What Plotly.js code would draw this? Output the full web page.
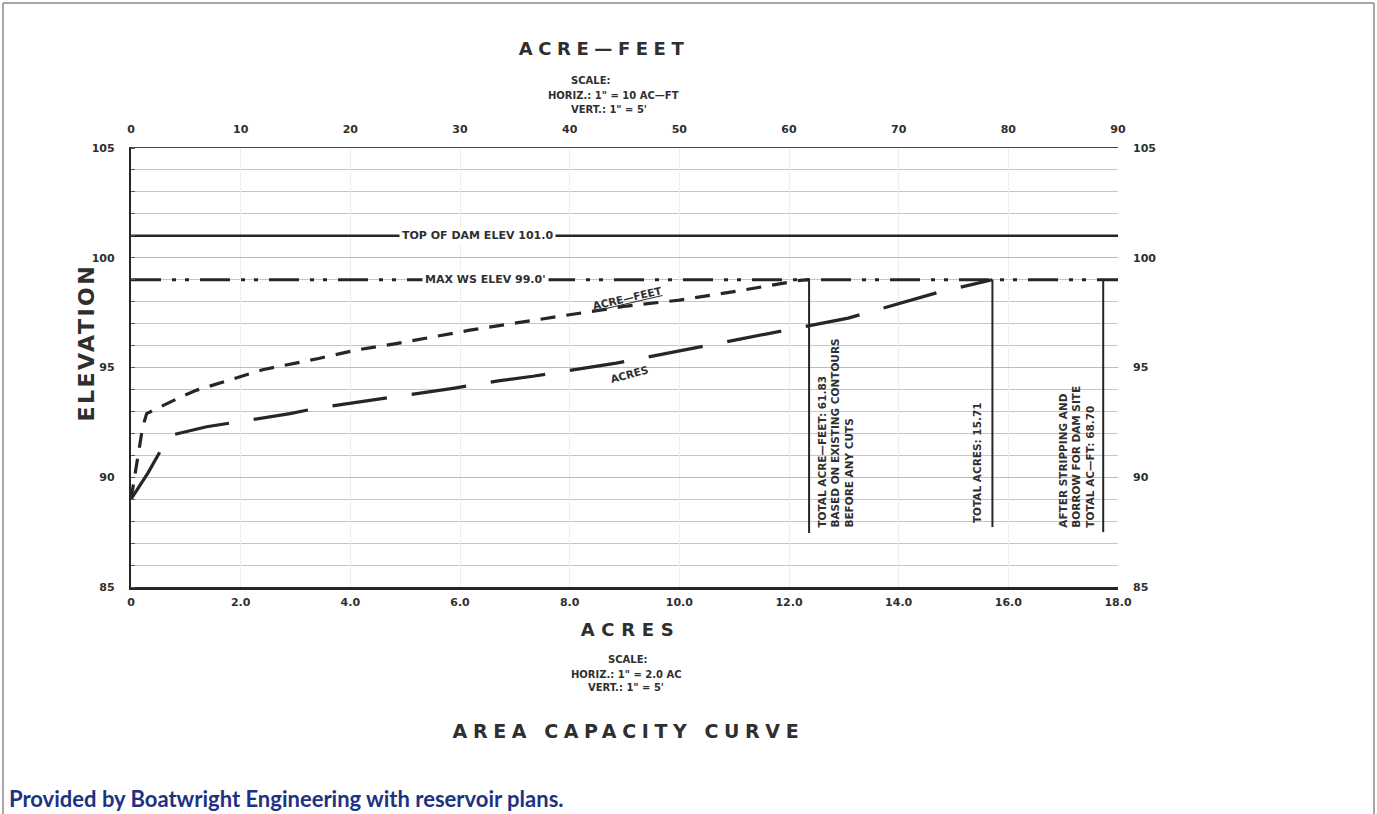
<!DOCTYPE html>
<html>
<head>
<meta charset="utf-8">
<script src="https://cdn.plot.ly/plotly-3.0.1.min.js"></script>
<style>
html,body{margin:0;padding:0;background:#fff;}
#chart{width:1377px;height:814px;}
</style>
</head>
<body>
<div id="chart"></div>
<script>
// ---------- data ----------
// Acres curve (bottom axis, acres) vs elevation (ft)
const acresX    = [0, 0.31, 0.56, 0.71, 1.38, 1.86, 2.9, 3.39, 4.36, 5.87, 6.73, 7.33, 8.85, 10.32, 11.78, 13.08, 13.71, 14.69, 15.71];
const acresElev = [89, 90.2, 91.3, 91.9, 92.3, 92.5, 92.9, 93.15, 93.5, 94.05, 94.4, 94.6, 95.2, 95.9, 96.6, 97.25, 97.7, 98.4, 99.0];
// Acre-feet curve (top axis, acre-feet) vs elevation (ft)
const acftX     = [0, 1.07, 1.43, 4.5, 6.0, 12.0, 17.0, 20.6, 24.3, 30.9, 36.7, 41.1, 45.2, 50.0, 55.5, 61.0, 61.83];
const acftElev  = [89, 92.3, 92.9, 93.65, 93.97, 94.9, 95.4, 95.8, 96.1, 96.7, 97.15, 97.5, 97.8, 98.07, 98.5, 98.97, 99.0];
// Reference elevations
const topOfDamElev = 101.0;
const maxWsElev    = 99.0;
// Totals (vertical marker lines)
const totalAcreFeet = 61.83;      // on acre-feet axis
const totalAcres    = 15.71;      // on acres axis
const afterStripAcresPos = 17.73; // position of third marker, acres axis
const markerBottoms = [87.46, 87.73, 87.5];
// Tick labels
const acresTickVals  = [0, 2, 4, 6, 8, 10, 12, 14, 16, 18];
const acresTickText  = ['0', '2.0', '4.0', '6.0', '8.0', '10.0', '12.0', '14.0', '16.0', '18.0'];
const acftTickVals   = [0, 10, 20, 30, 40, 50, 60, 70, 80, 90];
const acftTickText   = ['0', '10', '20', '30', '40', '50', '60', '70', '80', '90'];
const elevTickVals   = [85, 90, 95, 100, 105];
const elevTickText   = ['85', '90', '95', '100', '105'];
const acresRange = [0, 18];
const acftRange  = [0, 90];
const elevRange  = [85, 105];

// ---------- geometry helpers ----------
const L = 131, R = 1118, T = 148, B = 587;
const W = R - L, H = B - T;
const px = x => (x - L) / W;
const py = y => (B - y) / H;

const INK = '#262626';
const TXT = '#2f2f2f';
const CAD = 'DejaVu Sans';

const traces = [
  { // top of dam
    x: acresRange, y: [topOfDamElev, topOfDamElev], xaxis: 'x', yaxis: 'y2',
    mode: 'lines', line: {color: INK, width: 2.6}, hoverinfo: 'skip'
  },
  { // max WS
    x: acresRange, y: [maxWsElev, maxWsElev], xaxis: 'x', yaxis: 'y',
    mode: 'lines', line: {color: INK, width: 3, dash: '30px,11px,4px,9px,4px,11px'}, hoverinfo: 'skip'
  },
  { // acres curve
    x: acresX, y: acresElev, xaxis: 'x', yaxis: 'y',
    mode: 'lines', line: {color: INK, width: 3.2, dash: '55px,25px'}, hoverinfo: 'skip'
  },
  { // acre-feet curve
    x: acftX, y: acftElev, xaxis: 'x2', yaxis: 'y',
    mode: 'lines', line: {color: INK, width: 3.2, dash: '15px,11px'}, hoverinfo: 'skip'
  },
  { // total acre-feet marker
    x: [totalAcreFeet, totalAcreFeet], y: [maxWsElev, markerBottoms[0]], xaxis: 'x2', yaxis: 'y',
    mode: 'lines', line: {color: INK, width: 2}, hoverinfo: 'skip'
  },
  { // total acres marker
    x: [totalAcres, totalAcres], y: [maxWsElev, markerBottoms[1]], xaxis: 'x', yaxis: 'y',
    mode: 'lines', line: {color: INK, width: 2}, hoverinfo: 'skip'
  },
  { // after stripping marker
    x: [afterStripAcresPos, afterStripAcresPos], y: [maxWsElev, markerBottoms[2]], xaxis: 'x', yaxis: 'y',
    mode: 'lines', line: {color: INK, width: 2}, hoverinfo: 'skip'
  }
];

const tickFont = {family: CAD, size: 11, color: TXT, weight: 'bold'};
const smallFont = {family: CAD, size: 10, color: TXT, weight: 'bold'};

const annotations = [
  // 0: top title
  {xref: 'paper', yref: 'paper', x: px(601), y: py(48), text: 'ACRE—FEET', showarrow: false,
   font: {family: CAD, size: 18, color: TXT, weight: 'bold'}, xanchor: 'center', yanchor: 'middle'},
  {xref: 'paper', yref: 'paper', x: px(590), y: py(73), text: 'SCALE:', showarrow: false, font: smallFont},
  {xref: 'paper', yref: 'paper', x: px(613), y: py(88), text: 'HORIZ.: 1" = 10 AC—FT', showarrow: false, font: smallFont},
  {xref: 'paper', yref: 'paper', x: px(609), y: py(102), text: 'VERT.: 1" = 5\'', showarrow: false, font: smallFont},
  // 4: bottom title
  {xref: 'paper', yref: 'paper', x: px(627), y: py(642), text: 'ACRES', showarrow: false,
   font: {family: CAD, size: 18, color: TXT, weight: 'bold'}},
  {xref: 'paper', yref: 'paper', x: px(627), y: py(667), text: 'SCALE:', showarrow: false, font: smallFont},
  {xref: 'paper', yref: 'paper', x: px(626), y: py(682), text: 'HORIZ.: 1" = 2.0 AC', showarrow: false, font: smallFont},
  {xref: 'paper', yref: 'paper', x: px(626), y: py(695), text: 'VERT.: 1" = 5\'', showarrow: false, font: smallFont},
  // 8: chart name
  {xref: 'paper', yref: 'paper', x: px(625), y: py(744), text: 'AREA CAPACITY CURVE', showarrow: false,
   font: {family: CAD, size: 19, color: TXT, weight: 'bold'}},
  // 9: y title
  {xref: 'paper', yref: 'paper', x: px(71), y: py(344), text: 'ELEVATION', showarrow: false, textangle: -90,
   font: {family: CAD, size: 22, color: TXT, weight: 'bold'}},
  // footer
  {xref: 'paper', yref: 'paper', x: px(7), y: py(814), xanchor: 'left', yanchor: 'bottom',
   text: 'Provided by Boatwright Engineering with reservoir plans.', showarrow: false,
   font: {family: 'Lato', size: 22, color: '#1d3283', weight: 'bold'}},
  // line labels
  {xref: 'x', yref: 'y2', x: 6.31, y: topOfDamElev, text: 'TOP OF DAM ELEV 101.0', showarrow: false,
   bgcolor: '#ffffff', borderpad: 2, font: {family: CAD, size: 11, color: TXT, weight: 'bold'}},
  {xref: 'x', yref: 'y', x: 6.46, y: maxWsElev, text: 'MAX WS ELEV 99.0\'', showarrow: false,
   bgcolor: '#ffffff', borderpad: 2, font: {family: CAD, size: 11, color: TXT, weight: 'bold'}},
  // curve labels
  {xref: 'x', yref: 'y', x: 9.05, y: 98.15, text: '<span style="text-decoration:underline">ACRE—FEET</span>',
   showarrow: false, textangle: -13, font: {family: CAD, size: 10.5, color: TXT, weight: 'bold'}},
  {xref: 'x', yref: 'y', x: 9.1, y: 94.7, text: 'ACRES', showarrow: false, textangle: -15,
   font: {family: CAD, size: 10.5, color: TXT, weight: 'bold'}},
  // vertical notes
  {xref: 'x', yref: 'y', x: 12.45, y: 87.6, xanchor: 'left', yanchor: 'bottom', align: 'left', textangle: -90,
   text: 'TOTAL ACRE—FEET: 61.83<br>BASED ON EXISTING CONTOURS<br>BEFORE ANY CUTS', showarrow: false,
   font: {family: CAD, size: 10.5, color: TXT, weight: 'bold'}},
  {xref: 'x', yref: 'y', x: 15.575, y: 87.8, xanchor: 'right', yanchor: 'bottom', align: 'left', textangle: -90,
   text: 'TOTAL ACRES: 15.71', showarrow: false,
   font: {family: CAD, size: 10.5, color: TXT, weight: 'bold'}},
  {xref: 'x', yref: 'y', x: 17.64, y: 87.6, xanchor: 'right', yanchor: 'bottom', align: 'left', textangle: -90,
   text: 'AFTER STRIPPING AND<br>BORROW FOR DAM SITE<br>TOTAL AC—FT: 68.70', showarrow: false,
   font: {family: CAD, size: 10.5, color: TXT, weight: 'bold'}}
];

const shapes = [
  // outer drawing frame (left, top, right)
  {type: 'line', xref: 'paper', yref: 'paper', x0: px(3), x1: px(3), y0: py(3), y1: py(814), line: {color: '#8a8a8a', width: 1.5}},
  {type: 'line', xref: 'paper', yref: 'paper', x0: px(3), x1: px(1374), y0: py(3), y1: py(3), line: {color: '#8a8a8a', width: 1.5}},
  {type: 'line', xref: 'paper', yref: 'paper', x0: px(1374), x1: px(1374), y0: py(3), y1: py(814), line: {color: '#8a8a8a', width: 1.5}}
];

const layout = {
  width: 1377, height: 814,
  margin: {l: L, r: 1377 - R, t: T, b: 814 - B, pad: 0},
  paper_bgcolor: '#ffffff', plot_bgcolor: '#ffffff',
  showlegend: false, hovermode: false,
  xaxis: {
    range: acresRange, tickvals: acresTickVals, ticktext: acresTickText,
    showgrid: true, gridcolor: '#ededed', gridwidth: 1, zeroline: false,
    showline: true, linecolor: INK, linewidth: 2.5, ticks: '', tickfont: tickFont,
    ticklabelstandoff: 3
  },
  xaxis2: {
    range: acftRange, tickvals: acftTickVals, ticktext: acftTickText, overlaying: 'x', side: 'top',
    showgrid: false, zeroline: false, showline: true, linecolor: '#4a4a4a', linewidth: 1.5,
    ticks: '', tickfont: tickFont, ticklabelstandoff: 9
  },
  yaxis: {
    range: elevRange, tickvals: elevTickVals, ticktext: elevTickText,
    showgrid: true, gridcolor: '#bcbcbc', gridwidth: 1, zeroline: false,
    showline: true, linecolor: INK, linewidth: 2.2, ticks: '', tickfont: tickFont, ticklabelstandoff: 12,
    minor: {dtick: 1, showgrid: true, gridcolor: '#c6c6c6', gridwidth: 1, ticks: 'inside', ticklen: 4, tickcolor: '#555', tickwidth: 1}
  },
  yaxis2: {
    range: elevRange, tickvals: elevTickVals, ticktext: elevTickText, overlaying: 'y', side: 'right',
    showgrid: false, zeroline: false, showline: false, ticks: '', tickfont: tickFont, ticklabelstandoff: 14
  },
  annotations: annotations,
  shapes: shapes
};

// letter spacing targets (px width) for the drafting-style titles, by annotation index
const spacingTargets = {0: 165, 4: 93, 8: 346, 9: 155};

Plotly.newPlot('chart', traces, layout, {staticPlot: true, displayModeBar: false}).then(gd => {
  Object.keys(spacingTargets).forEach(idx => {
    const g = gd.querySelector('g.annotation[data-index="' + idx + '"]');
    if (!g) return;
    const t = g.querySelector('text.annotation-text');
    if (!t) return;
    const s = t.textContent;
    const len = t.getComputedTextLength();
    const sp = (spacingTargets[idx] - len) / (s.length - 1);
    if (sp > 0) {
      t.style.letterSpacing = sp.toFixed(2) + 'px';
      const x = parseFloat(t.getAttribute('x') || '0');
      t.setAttribute('x', (x + sp / 2).toFixed(2));
    }
  });
});
</script>
</body>
</html>
